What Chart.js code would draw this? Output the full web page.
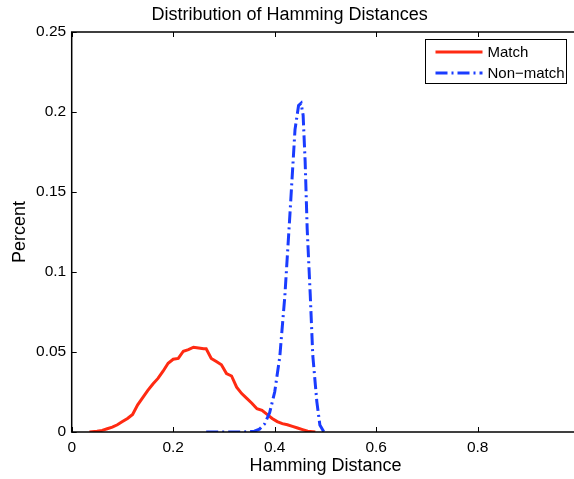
<!DOCTYPE html>
<html>
<head>
<meta charset="utf-8">
<script src="https://cdn.jsdelivr.net/npm/chart.js@4.4.1/dist/chart.umd.min.js"></script>
<style>
  html, body { margin: 0; padding: 0; background: #fff; overflow: hidden; }
  #wrap { width: 600px; height: 479px; }
</style>
</head>
<body>
<div id="wrap"><canvas id="hd" width="600" height="479"></canvas></div>
<script>
// values
const matchDist = [0.035, 0.05, 0.06, 0.07, 0.08, 0.09, 0.10, 0.11, 0.12, 0.13, 0.14, 0.15, 0.16, 0.17, 0.18, 0.19, 0.20, 0.21, 0.22, 0.23, 0.24, 0.25, 0.26, 0.265, 0.275, 0.285, 0.295, 0.305, 0.315, 0.325, 0.335, 0.345, 0.355, 0.365, 0.375, 0.385, 0.395, 0.405, 0.415, 0.425, 0.435, 0.445, 0.455, 0.465, 0.48];
const matchPct = [0, 0.0005, 0.001, 0.002, 0.003, 0.0045, 0.0065, 0.0085, 0.011, 0.017, 0.0215, 0.026, 0.030, 0.0335, 0.038, 0.043, 0.0455, 0.046, 0.0505, 0.0515, 0.053, 0.0525, 0.052, 0.052, 0.046, 0.044, 0.042, 0.0365, 0.035, 0.028, 0.024, 0.021, 0.018, 0.0145, 0.0135, 0.011, 0.0085, 0.0065, 0.0052, 0.0045, 0.0035, 0.0025, 0.0015, 0.0005, 0];

const nonMatchDist = [0.265, 0.30, 0.34, 0.36, 0.37, 0.38, 0.39, 0.40, 0.41, 0.42, 0.43, 0.44, 0.447, 0.452, 0.456, 0.46, 0.464, 0.47, 0.475, 0.483, 0.489, 0.497];
const nonMatchPct = [0, 0, 0, 0.0005, 0.0018, 0.005, 0.012, 0.025, 0.047, 0.085, 0.136, 0.189, 0.204, 0.2055, 0.198, 0.169, 0.127, 0.086, 0.048, 0.019, 0.0044, 0];

const xTicks = [0, 0.2, 0.4, 0.6, 0.8, 1];
const yTicks = [0, 0.05, 0.1, 0.15, 0.2, 0.25];

const FONT = "'Liberation Sans', Arial, Helvetica, sans-serif";

function toPoints(xs, ys) {
    return xs.map((x, i) => ({ x: x, y: ys[i] }));
}

// matlab-style box with inward ticks on all four sides
const boxPlugin = {
    id: 'box',
    afterDatasetsDraw(chart) {
        const { ctx, chartArea: a, scales } = chart;
        const len = 5;
        ctx.save();
        ctx.strokeStyle = '#000';
        ctx.lineWidth = 1;
        ctx.beginPath();
        scales.x.ticks.forEach((t) => {
            const px = Math.round(scales.x.getPixelForValue(t.value)) + 0.5;
            ctx.moveTo(px, a.bottom);
            ctx.lineTo(px, a.bottom - len);
            ctx.moveTo(px, a.top);
            ctx.lineTo(px, a.top + len);
        });
        scales.y.ticks.forEach((t) => {
            const py = Math.round(scales.y.getPixelForValue(t.value)) + 0.5;
            ctx.moveTo(a.left, py);
            ctx.lineTo(a.left + len, py);
            ctx.moveTo(a.right, py);
            ctx.lineTo(a.right - len, py);
        });
        ctx.stroke();
        ctx.lineWidth = 1.5;
        ctx.strokeRect(a.left, a.top, a.right - a.left, a.bottom - a.top);
        ctx.restore();
    }
};

// legend box in the upper right corner of the plot
const legendBoxPlugin = {
    id: 'legendBox',
    afterDraw(chart) {
        const { ctx, chartArea: a } = chart;
        const bx = Math.round(a.right - 154) + 0.5;
        const by = Math.round(a.top + 7) + 0.5;
        const bw = 141, bh = 44;
        ctx.save();
        ctx.fillStyle = '#fff';
        ctx.fillRect(bx, by, bw, bh);
        ctx.strokeStyle = '#000';
        ctx.lineWidth = 1;
        ctx.strokeRect(bx, by, bw, bh);
        ctx.font = '15px ' + FONT;
        ctx.textBaseline = 'middle';
        ctx.fillStyle = '#000';
        chart.data.datasets.forEach((ds, i) => {
            const y = by + 12.5 + i * 21;
            ctx.beginPath();
            ctx.strokeStyle = ds.borderColor;
            ctx.lineWidth = ds.borderWidth;
            ctx.setLineDash(ds.borderDash || []);
            ctx.moveTo(bx + 10, y);
            ctx.lineTo(bx + 57, y);
            ctx.stroke();
            ctx.setLineDash([]);
            ctx.fillText(ds.label, bx + 62, y + 1);
        });
        ctx.restore();
    }
};

new Chart(document.getElementById('hd'), {
    type: 'line',
    data: {
        datasets: [
            {
                label: 'Match',
                data: toPoints(matchDist, matchPct),
                borderColor: '#ff2a12',
                borderWidth: 3,
                pointRadius: 0,
                tension: 0,
                order: 1,
            },
            {
                label: 'Non\u2212match',
                data: toPoints(nonMatchDist, nonMatchPct),
                borderColor: '#1a3cff',
                borderWidth: 3,
                borderDash: [12, 4, 2, 4],
                pointRadius: 0,
                tension: 0,
                order: 0,
            },
        ],
    },
    options: {
        responsive: false,
        animation: false,
        devicePixelRatio: 1,
        layout: { padding: { left: 0, right: 20.8, top: 0, bottom: 0 } },
        plugins: {
            legend: { display: false },
            tooltip: { enabled: false },
            title: {
                display: true,
                text: 'Distribution of Hamming Distances',
                color: '#000',
                font: { family: FONT, size: 18, weight: 'normal' },
                padding: { top: 4, bottom: 6.4 },
            },
        },
        scales: {
            x: {
                type: 'linear',
                min: 0,
                max: 1,
                grid: { display: false, drawTicks: false },
                border: { display: false },
                afterBuildTicks: (s) => { s.ticks = xTicks.map((v) => ({ value: v })); },
                afterFit: (s) => { s.height = 47; },
                ticks: {
                    padding: 6,
                    maxRotation: 0,
                    autoSkip: false,
                    color: '#000',
                    font: { family: FONT, size: 15.5 },
                    callback: (v) => String(v),
                },
                title: {
                    display: true,
                    text: 'Hamming Distance',
                    color: '#000',
                    font: { family: FONT, size: 18 },
                    padding: { top: 0, bottom: 1.7 },
                },
            },
            y: {
                type: 'linear',
                min: 0,
                max: 0.25,
                grid: { display: false, drawTicks: false },
                border: { display: false },
                afterBuildTicks: (s) => { s.ticks = yTicks.map((v) => ({ value: v })); },
                afterFit: (s) => { s.width = 71.7; },
                ticks: {
                    padding: 5.5,
                    autoSkip: false,
                    color: '#000',
                    font: { family: FONT, size: 15.5 },
                    callback: (v) => String(v),
                },
                title: {
                    display: true,
                    text: 'Percent',
                    color: '#000',
                    font: { family: FONT, size: 18 },
                    padding: { top: 9, bottom: 0 },
                },
            },
        },
    },
    plugins: [boxPlugin, legendBoxPlugin],
});
</script>
</body>
</html>
